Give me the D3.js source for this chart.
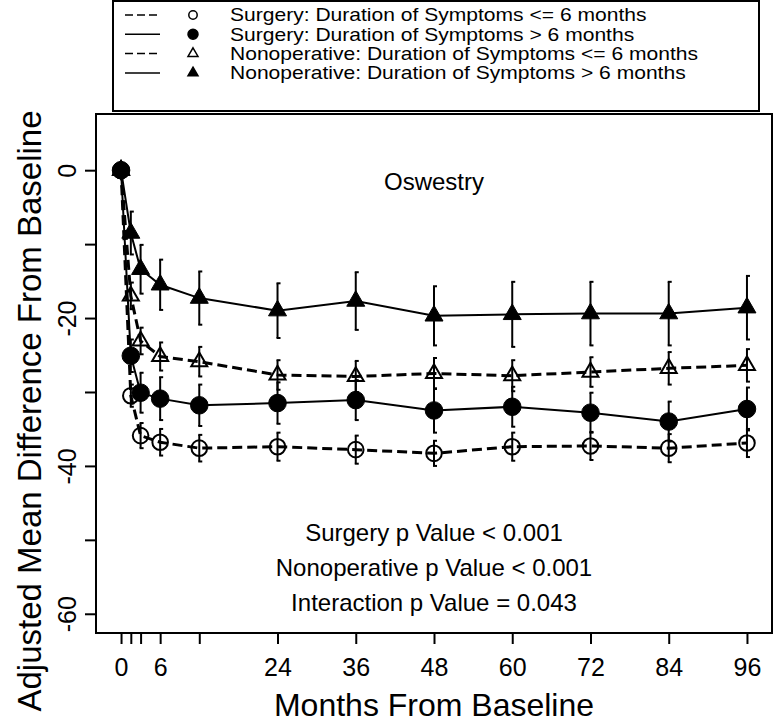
<!DOCTYPE html>
<html>
<head>
<meta charset="utf-8">
<script src="https://cdn.jsdelivr.net/npm/d3@7"></script>
<style>
  html, body { margin: 0; padding: 0; background: #fff; }
  svg { display: block; font-family: "Liberation Sans", Arial, Helvetica, sans-serif; }
</style>
</head>
<body>
<svg id="chart" width="774" height="724"></svg>
<script>
// ---- data ----
const months = [0, 1.5, 3, 6, 12, 24, 36, 48, 60, 72, 84, 96];
const surgLE6 = [0, -30.5, -35.9, -36.8, -37.6, -37.4, -37.8, -38.3, -37.4, -37.3, -37.6, -36.9];
const surgGT6 = [0, -25.1, -30.1, -30.9, -31.8, -31.5, -31.1, -32.5, -32.0, -32.8, -34.0, -32.3];
const nonLE6  = [0, -17.0, -23.1, -25.2, -25.9, -27.7, -27.9, -27.5, -27.8, -27.3, -26.8, -26.4];
const nonGT6  = [0, -8.5, -13.4, -15.5, -17.3, -19.0, -17.7, -19.7, -19.5, -19.4, -19.4, -18.6];
const surgLE6err = [0, 1.5, 1.7, 1.8, 1.8, 1.9, 1.9, 1.7, 1.9, 1.9, 1.9, 1.9];
const surgGT6err = [0, 2.2, 2.7, 2.9, 2.8, 2.8, 2.7, 3.0, 2.7, 2.7, 2.7, 2.9];
const nonLE6err  = [0, 1.8, 1.8, 1.9, 2.0, 2.0, 2.1, 2.1, 2.1, 2.0, 2.2, 2.2];
const nonGT6err  = [0, 2.9, 3.3, 3.4, 3.6, 3.7, 3.9, 4.0, 4.4, 4.3, 4.3, 4.3];
const xTicks = [0, 1.5, 3, 6, 12, 24, 36, 48, 60, 72, 84, 96];
const xTickLabels = [0, 6, 24, 36, 48, 60, 72, 84, 96];
const yTicks = [0, -10, -20, -30, -40, -50, -60];
const yTickLabels = [0, -20, -40, -60];
const legendLabels = [
  "Surgery: Duration of Symptoms <= 6 months",
  "Surgery: Duration of Symptoms > 6 months",
  "Nonoperative: Duration of Symptoms <= 6 months",
  "Nonoperative: Duration of Symptoms > 6 months"
];
const pTexts = ["Surgery p Value < 0.001", "Nonoperative p Value < 0.001", "Interaction p Value = 0.043"];
const panelTitle = "Oswestry";

// ---- series styling ----
const series = [
  {vals: surgLE6, err: surgLE6err, dashed: true,  shape: "circle",   filled: false},
  {vals: nonLE6,  err: nonLE6err,  dashed: true,  shape: "triangle", filled: false},
  {vals: nonGT6,  err: nonGT6err,  dashed: false, shape: "triangle", filled: true},
  {vals: surgGT6, err: surgGT6err, dashed: false, shape: "circle",   filled: true}
];
const legendOrder = [0, 3, 1, 2];

const svg = d3.select("#chart");
const L = 96, R = 772, T = 114, B = 633;
const x = d3.scaleLinear().domain([-3.84, 99.84]).range([L, R]);
const y = d3.scaleLinear().domain([-62.6, 7.6]).range([B, T]);

function symPath(s, big) {
  if (s.shape === "circle") {
    const r = big ? (s.filled ? 8.8 : 7.8) : (s.filled ? 5 : 4.2);
    return d3.symbol().type(d3.symbolCircle).size(Math.PI * r * r)();
  } else {
    const w = big ? (s.filled ? 18 : 16) : 10;
    return d3.symbol().type(d3.symbolTriangle).size(Math.sqrt(3) / 4 * w * w)();
  }
}

// ---- axes ----
const xAxis = d3.axisBottom(x).tickValues(xTicks).tickSize(11)
  .tickFormat(d => xTickLabels.includes(d) ? String(d) : "");
const gx = svg.append("g").attr("transform", `translate(0,${B})`).call(xAxis);
gx.select(".domain").remove();
gx.selectAll(".tick line").attr("stroke", "#000").attr("stroke-width", 2);
gx.selectAll(".tick text").attr("font-size", 25).attr("fill", "#000").attr("dy", null).attr("y", 43);

const yAxis = d3.axisLeft(y).tickValues(yTicks).tickSize(11)
  .tickFormat(d => yTickLabels.includes(d) ? String(d) : "");
const gy = svg.append("g").attr("transform", `translate(${L},0)`).call(yAxis);
gy.select(".domain").remove();
gy.selectAll(".tick line").attr("stroke", "#000").attr("stroke-width", 2);
gy.selectAll(".tick text").attr("font-size", 25).attr("fill", "#000")
  .attr("text-anchor", "middle").attr("x", null).attr("dy", null)
  .attr("transform", "translate(-20,0) rotate(-90)").attr("y", 0);

svg.append("rect").attr("x", L).attr("y", T).attr("width", R - L).attr("height", B - T)
  .attr("fill", "none").attr("stroke", "#000").attr("stroke-width", 2);

// axis titles
svg.append("text").attr("x", 434).attr("y", 716).attr("text-anchor", "middle")
  .attr("font-size", 32).attr("fill", "#000").text("Months From Baseline");
svg.append("text").attr("transform", "translate(41,411) rotate(-90)").attr("text-anchor", "middle")
  .attr("font-size", 33).attr("fill", "#000").text("Adjusted Mean Difference From Baseline");

// ---- series ----
const line = d3.line().x(d => x(d[0])).y(d => y(d[1]));
series.forEach(s => {
  const pts = months.map((m, i) => [m, s.vals[i]]);
  svg.append("path").attr("d", line(pts)).attr("fill", "none").attr("stroke", "#000")
    .attr("stroke-width", s.dashed ? 3 : 2)
    .attr("stroke-dasharray", s.dashed ? "10,5" : null);
});
series.forEach(s => {
  const g = svg.append("g");
  months.forEach((m, i) => {
    if (s.err[i] > 0) {
      const cx = x(m), y1 = y(s.vals[i] + s.err[i]), y2 = y(s.vals[i] - s.err[i]);
      g.append("line").attr("x1", cx).attr("x2", cx).attr("y1", y1).attr("y2", y2)
        .attr("stroke", "#000").attr("stroke-width", 2);
      [y1, y2].forEach(yy => g.append("line").attr("x1", cx - 1).attr("x2", cx + 3)
        .attr("y1", yy).attr("y2", yy).attr("stroke", "#000").attr("stroke-width", 2));
    }
  });
});
series.forEach(s => {
  svg.append("g").selectAll("path").data(months.map((m, i) => [m, s.vals[i]])).join("path")
    .attr("d", symPath(s, true))
    .attr("transform", d => `translate(${x(d[0])},${y(d[1])})`)
    .attr("fill", s.filled ? "#000" : "none")
    .attr("stroke", "#000").attr("stroke-width", s.filled ? 1 : 2);
});

// ---- annotations ----
svg.append("text").attr("x", 434).attr("y", 190).attr("text-anchor", "middle")
  .attr("font-size", 24).attr("fill", "#000").text(panelTitle);
pTexts.forEach((t, i) => {
  svg.append("text").attr("x", 434).attr("y", 541 + i * 35).attr("text-anchor", "middle")
    .attr("font-size", 24).attr("fill", "#000").text(t);
});

// ---- legend ----
const lg = svg.append("g");
lg.append("rect").attr("x", 113).attr("y", 1).attr("width", 646).attr("height", 110)
  .attr("fill", "#fff").attr("stroke", "#000").attr("stroke-width", 2);
legendOrder.forEach((si, i) => {
  const s = series[si];
  const yy = 15 + i * 19.3;
  lg.append("line").attr("x1", 125).attr("x2", 160).attr("y1", yy).attr("y2", yy)
    .attr("stroke", "#000").attr("stroke-width", 1.5)
    .attr("stroke-dasharray", s.dashed ? "8,4" : null);
  lg.append("path").attr("d", symPath(s, false)).attr("transform", `translate(193,${yy})`)
    .attr("fill", s.filled ? "#000" : "none").attr("stroke", "#000").attr("stroke-width", 1.5);
  lg.append("text").attr("transform", `translate(230,${yy + 6.3}) scale(1.17,1)`)
    .attr("font-size", 18).attr("fill", "#000")
    .text(legendLabels[i]);
});
</script>
</body>
</html>
